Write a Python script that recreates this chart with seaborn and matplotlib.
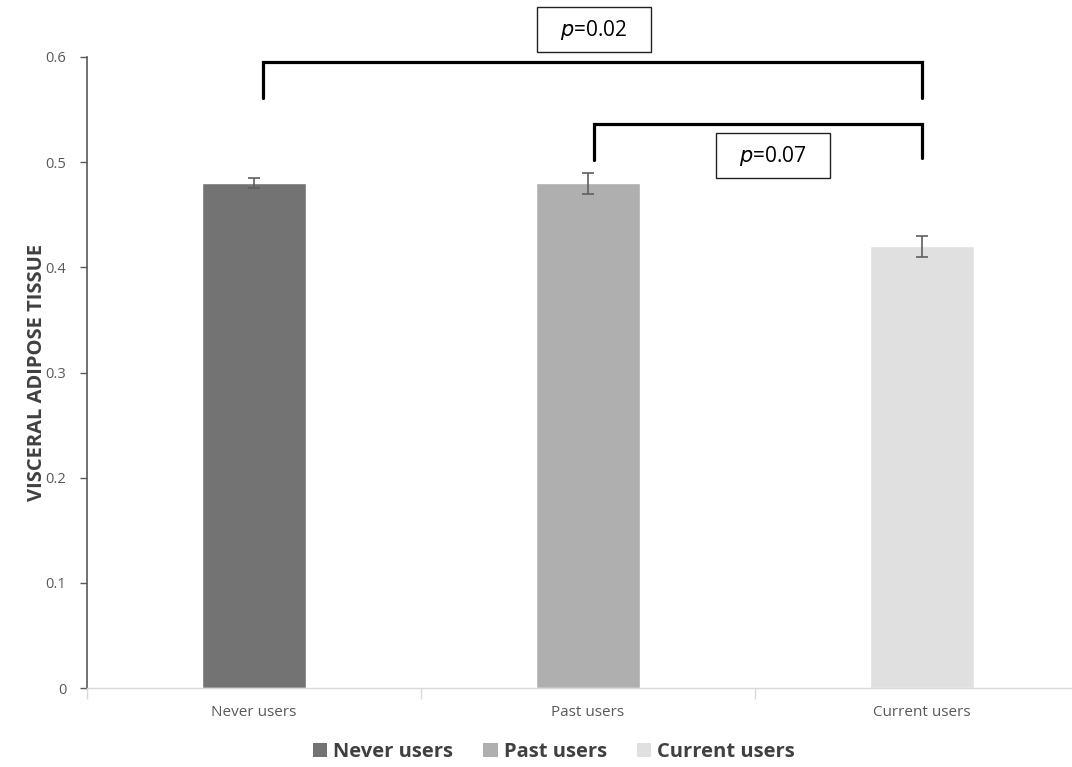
import matplotlib
matplotlib.use("Agg")
import matplotlib.pyplot as plt
import seaborn as sns
import pandas as pd
from matplotlib.patches import Rectangle, Patch

categories = ["Never users", "Past users", "Current users"]
values = [0.48, 0.48, 0.42]
errors = [0.005, 0.01, 0.01]
colors = ["#737373", "#afafaf", "#e0e0e0"]
yticks = [0, 0.1, 0.2, 0.3, 0.4, 0.5, 0.6]
ytick_labels = ["0", "0.1", "0.2", "0.3", "0.4", "0.5", "0.6"]
comparisons = [("Never users", "Current users", "0.02"), ("Past users", "Current users", "0.07")]

sns.set_style("white")
plt.rcParams['font.family'] = ['Open Sans', 'DejaVu Sans']

df = pd.DataFrame({"group": categories, "vat": values})

fig = plt.figure(figsize=(10.72, 7.67), dpi=100)
ax = fig.add_axes([87/1072, 1-688/767, (1089-87)/1072, (688-57)/767])

sns.barplot(data=df, x="group", y="vat", hue="group", palette=colors,
            order=categories, hue_order=categories, dodge=False, width=0.314,
            legend=False, errorbar=None, ax=ax, saturation=1)
ax.errorbar(range(len(categories)), values, yerr=errors, fmt="none",
            ecolor="#5f5f5f", elinewidth=1.2, capsize=4, capthick=1.2, zorder=5)

ax.set_xlim(-0.5, 2.5)
ax.set_ylim(0, 0.6)
ax.set_yticks(yticks)
ax.set_yticklabels(ytick_labels, fontsize=10.5, color="#595959")
ax.set_xticks(range(len(categories)))
ax.set_xticklabels(categories, fontsize=11, color="#595959")
ax.set_xlabel("")
ax.set_ylabel("VISCERAL ADIPOSE TISSUE", fontsize=14.5, fontweight="bold",
              color="#404040")
ax.yaxis.set_label_coords(-0.04, 0.5)

for s in ["top", "right"]:
    ax.spines[s].set_visible(False)
ax.spines["left"].set_color("#595959")
ax.spines["left"].set_linewidth(1.2)
ax.spines["bottom"].set_color("#d9d9d9")
ax.spines["bottom"].set_linewidth(1.0)
ax.tick_params(axis="y", which="major", left=True, length=5, width=1, color="#595959", pad=10)
ax.tick_params(axis="x", which="major", bottom=False, pad=9)
ax.set_xticks([-0.5, 0.5, 1.5], minor=True)
ax.tick_params(axis="x", which="minor", bottom=True, length=8, width=1, color="#d9d9d9")

# significance brackets
idx = {c: i for i, c in enumerate(categories)}
bracket_specs = [
    # (left offset, bar y, leg bottom left, leg bottom right, box center x, box center y)
    (0.028, 0.595, 0.561, 0.561, 1.018, 0.626),
    (0.018, 0.536, 0.502, 0.504, 1.553, 0.506),
]
for (a, b, p), (off, yb, yl, yr, bx, by) in zip(comparisons, bracket_specs):
    x1 = idx[a] + off
    x2 = idx[b]
    ax.plot([x1, x1, x2, x2], [yl, yb, yb, yr], color="black", lw=2.3,
            clip_on=False, solid_joinstyle="miter", zorder=6)
    bw, bh = 114/334.5, 45/1051.7
    ax.add_patch(Rectangle((bx - bw/2, by - bh/2), bw, bh, facecolor="white",
                           edgecolor="#222222", lw=1.0, clip_on=False, zorder=6))
    ax.text(bx, by, r"$\it{p}$" + "=" + p, ha="center", va="center",
            fontsize=15, color="black", clip_on=False, zorder=7)

handles = [Patch(facecolor=c, edgecolor="none") for c in colors]
leg = fig.legend(handles, categories, loc="center", bbox_to_anchor=(554/1072, 1-752/767),
                 ncol=3, frameon=False, handlelength=0.7, handleheight=0.7,
                 handletextpad=0.3, columnspacing=1.5,
                 prop={"size": 14.5, "weight": "bold"})
for t in leg.get_texts():
    t.set_color("#404040")

fig.savefig("out.png", dpi=100)
